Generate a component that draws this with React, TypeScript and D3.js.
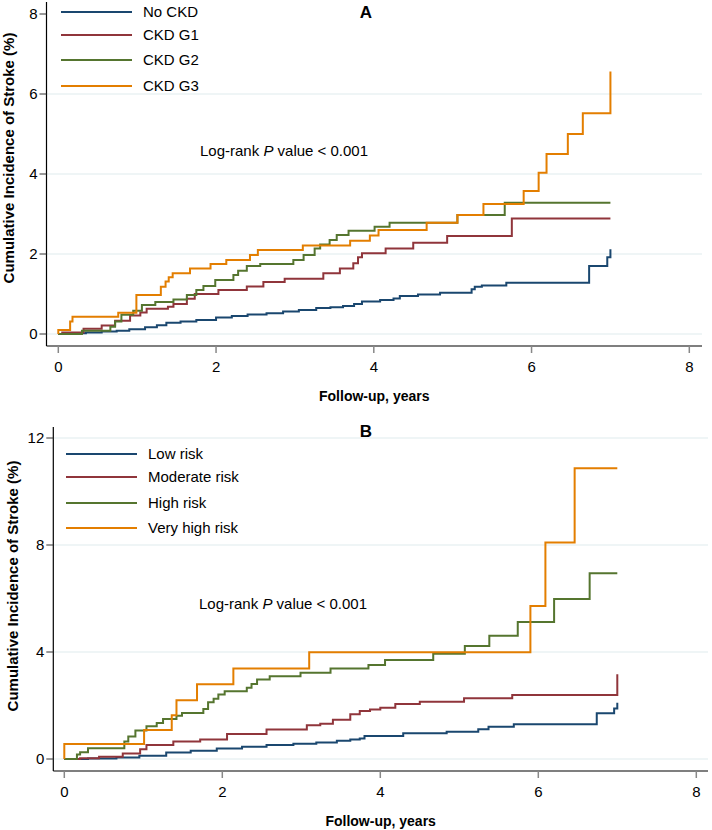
import { useEffect, useRef } from 'react';
import * as d3 from 'd3';

// time (years), cumulative incidence (%) -- step points
const noCkd = [[0,0],[0.15,0.02],[0.35,0.04],[0.55,0.06],[0.74,0.08],[0.9,0.12],[1.1,0.17],[1.25,0.22],[1.37,0.28],[1.55,0.31],[1.75,0.35],[2.0,0.41],[2.2,0.45],[2.4,0.49],[2.64,0.52],[2.85,0.56],[3.05,0.6],[3.27,0.65],[3.45,0.67],[3.61,0.7],[3.75,0.75],[3.85,0.81],[4.08,0.85],[4.25,0.89],[4.33,0.95],[4.56,0.99],[4.84,1.03],[5.24,1.12],[5.28,1.18],[5.37,1.21],[5.68,1.28],[6.73,1.7],[6.96,1.92],[7.0,2.12]];
const ckdG1 = [[0,0],[0.05,0.04],[0.32,0.13],[0.55,0.21],[0.72,0.33],[0.91,0.46],[1.04,0.54],[1.12,0.63],[1.39,0.68],[1.46,0.75],[1.63,0.88],[1.73,1.0],[2.03,1.1],[2.39,1.19],[2.6,1.3],[2.87,1.38],[3.36,1.52],[3.57,1.64],[3.74,1.77],[3.8,1.92],[3.85,2.02],[4.15,2.14],[4.5,2.28],[4.93,2.45],[5.75,2.89],[7.0,2.89]];
const ckdG2 = [[0,0],[0.3,0.08],[0.66,0.18],[0.72,0.31],[0.8,0.48],[0.95,0.58],[1.06,0.725],[1.23,0.8],[1.46,0.86],[1.63,0.975],[1.75,1.1],[1.84,1.2],[1.99,1.35],[2.22,1.475],[2.28,1.58],[2.39,1.7],[2.56,1.75],[2.98,1.85],[3.11,1.975],[3.25,2.14],[3.32,2.24],[3.44,2.35],[3.53,2.475],[3.68,2.58],[4.01,2.68],[4.2,2.78],[5.06,2.975],[5.66,3.28],[7.0,3.28]];
const ckdG3 = [[0,0],[0,0.1],[0.15,0.31],[0.18,0.43],[0.76,0.53],[0.99,0.975],[1.3,1.18],[1.36,1.31],[1.4,1.42],[1.45,1.52],[1.67,1.64],[1.93,1.75],[2.13,1.85],[2.43,1.975],[2.53,2.1],[3.1,2.21],[3.7,2.33],[3.95,2.46],[4.06,2.6],[4.67,2.78],[5.06,2.975],[5.39,3.25],[5.9,3.575],[6.09,4.03],[6.19,4.5],[6.46,5.0],[6.65,5.52],[7.0,6.56]];

const lowRisk = [[0,0],[0.3,0.02],[0.66,0.06],[0.95,0.12],[1.29,0.24],[1.6,0.31],[1.93,0.39],[2.25,0.46],[2.56,0.52],[2.9,0.57],[3.19,0.62],[3.45,0.68],[3.62,0.73],[3.74,0.77],[3.8,0.86],[4.29,0.96],[4.84,1.02],[5.24,1.11],[5.37,1.21],[5.69,1.3],[6.74,1.71],[6.96,1.89],[7.0,2.1]];
const moderateRisk = [[0,0],[0.2,0.03],[0.44,0.08],[0.74,0.21],[0.96,0.36],[1.04,0.52],[1.38,0.65],[1.72,0.73],[2.06,0.93],[2.56,1.1],[3.07,1.26],[3.24,1.32],[3.4,1.47],[3.62,1.67],[3.74,1.79],[3.87,1.85],[4.0,1.92],[4.19,2.06],[4.5,2.14],[5.06,2.27],[5.67,2.39],[7.0,3.17]];
const highRisk = [[0,0],[0.16,0.17],[0.2,0.25],[0.3,0.4],[0.76,0.65],[0.81,0.84],[0.9,1.07],[1.04,1.22],[1.17,1.35],[1.25,1.5],[1.42,1.62],[1.49,1.72],[1.76,1.87],[1.82,2.12],[1.89,2.25],[1.95,2.41],[2.03,2.53],[2.31,2.66],[2.37,2.8],[2.44,2.97],[2.6,3.09],[2.99,3.22],[3.37,3.38],[3.85,3.51],[4.06,3.7],[4.67,3.93],[5.07,4.22],[5.38,4.61],[5.74,5.12],[6.2,5.98],[6.65,6.94],[7.0,6.94]];
const veryHighRisk = [[0,0],[0,0.56],[1.01,1.08],[1.36,1.64],[1.42,2.2],[1.68,2.79],[2.14,3.38],[3.1,3.99],[5.9,5.72],[6.09,8.09],[6.46,10.87],[7.0,10.87]];

const labelsA = ['No CKD', 'CKD G1', 'CKD G2', 'CKD G3'];
const labelsB = ['Low risk', 'Moderate risk', 'High risk', 'Very high risk'];
const xTicks = [0, 2, 4, 6, 8];
const yTicksA = [0, 2, 4, 6, 8];
const yTicksB = [0, 4, 8, 12];

const colors = ['#1a476f', '#90353b', '#55752f', '#e37e00'];
const FONT = 'Liberation Sans, Arial, sans-serif';

function drawPanel(root, opts) {
  const { series, labels, yTicks, yMax, box, title, legendY, legendX, pText, ytitleX, ytitleY, gridTop } = opts;
  const x = d3.scaleLinear().domain([0, 8]).range([box.x0, box.x8]);
  const y = d3.scaleLinear().domain([0, yMax]).range([box.y0, box.yTop]);
  const g = root.append('g');

  // gridlines
  g.selectAll('.grid')
    .data(yTicks.filter(t => gridTop || t !== yMax))
    .enter()
    .append('line')
    .attr('x1', box.left)
    .attr('x2', box.right)
    .attr('y1', d => y(d))
    .attr('y2', d => y(d))
    .attr('stroke', '#eaf2f3')
    .attr('stroke-width', 1.5);

  // axes
  g.append('line').attr('x1', box.left).attr('x2', box.left).attr('y1', box.axisTop).attr('y2', box.axisY).attr('stroke', '#000').attr('stroke-width', 1.2);
  g.append('line').attr('x1', box.left).attr('x2', box.right).attr('y1', box.axisY).attr('y2', box.axisY).attr('stroke', '#000').attr('stroke-width', 1.2);

  yTicks.forEach(t => {
    g.append('line').attr('x1', box.left - 7).attr('x2', box.left).attr('y1', y(t)).attr('y2', y(t)).attr('stroke', '#333').attr('stroke-width', 1);
    g.append('text').attr('x', box.left - 9).attr('y', y(t) + 5).attr('text-anchor', 'end').attr('font-size', 15).attr('font-family', FONT).text(t);
  });
  xTicks.forEach(t => {
    g.append('line').attr('x1', x(t)).attr('x2', x(t)).attr('y1', box.axisY).attr('y2', box.axisY + 7).attr('stroke', '#888').attr('stroke-width', 1.5);
    g.append('text').attr('x', x(t)).attr('y', box.axisY + 26).attr('text-anchor', 'middle').attr('font-size', 15).attr('font-family', FONT).text(t);
  });

  g.append('text')
    .attr('x', (box.left + box.right) / 2)
    .attr('y', box.axisY + 55)
    .attr('text-anchor', 'middle')
    .attr('font-size', 14)
    .attr('font-weight', 'bold')
    .attr('font-family', FONT)
    .text('Follow-up, years');

  g.append('text')
    .attr('transform', `translate(${ytitleX},${ytitleY}) rotate(-90)`)
    .attr('text-anchor', 'middle')
    .attr('font-size', 15)
    .attr('font-weight', 'bold')
    .attr('font-family', FONT)
    .text('Cumulative Incidence of Stroke (%)');

  g.append('text')
    .attr('x', title.x)
    .attr('y', title.y)
    .attr('text-anchor', 'middle')
    .attr('font-size', 17)
    .attr('font-weight', 'bold')
    .attr('font-family', FONT)
    .text(title.text);

  const pt = g.append('text').attr('x', pText.x).attr('y', pText.y).attr('font-size', 15).attr('font-family', FONT);
  pt.append('tspan').text('Log-rank ');
  pt.append('tspan').attr('font-style', 'italic').text('P');
  pt.append('tspan').text(' value < 0.001');

  const line = d3.line().x(d => x(d[0])).y(d => y(d[1])).curve(d3.curveStepAfter);
  series.forEach((s, i) => {
    g.append('path').attr('d', line(s)).attr('fill', 'none').attr('stroke', colors[i]).attr('stroke-width', 2);
  });

  labels.forEach((lab, i) => {
    g.append('line').attr('x1', legendX).attr('x2', legendX + 71).attr('y1', legendY[i]).attr('y2', legendY[i]).attr('stroke', colors[i]).attr('stroke-width', 2);
    g.append('text').attr('x', legendX + 82).attr('y', legendY[i] + 5).attr('font-size', 15).attr('font-family', FONT).text(lab);
  });
}

export default function App() {
  const ref = useRef(null);

  useEffect(() => {
    const svg = d3.select(ref.current);
    svg.selectAll('*').remove();
    svg.append('rect').attr('width', 712).attr('height', 830).attr('fill', '#fff');

    drawPanel(svg, {
      series: [noCkd, ckdG1, ckdG2, ckdG3],
      labels: labelsA,
      yTicks: yTicksA,
      yMax: 8,
      box: { x0: 58.3, x8: 689.3, y0: 334, yTop: 14, left: 46.5, right: 702, axisY: 346, axisTop: 2 },
      title: { text: 'A', x: 366, y: 18 },
      legendX: 61,
      legendY: [12, 35, 60, 86],
      pText: { x: 200, y: 156 },
      ytitleX: 14,
      ytitleY: 158,
      gridTop: false,
    });

    drawPanel(svg, {
      series: [lowRisk, moderateRisk, highRisk, veryHighRisk],
      labels: labelsB,
      yTicks: yTicksB,
      yMax: 12,
      box: { x0: 64.3, x8: 696.3, y0: 759, yTop: 438, left: 53.3, right: 708, axisY: 771, axisTop: 427 },
      title: { text: 'B', x: 366, y: 437 },
      legendX: 66,
      legendY: [454, 477, 503, 528],
      pText: { x: 199, y: 609 },
      ytitleX: 18,
      ytitleY: 586,
      gridTop: true,
    });
  }, []);

  return <svg ref={ref} width={712} height={830} style={{ position: 'absolute', left: 0, top: 0 }} />;
}
